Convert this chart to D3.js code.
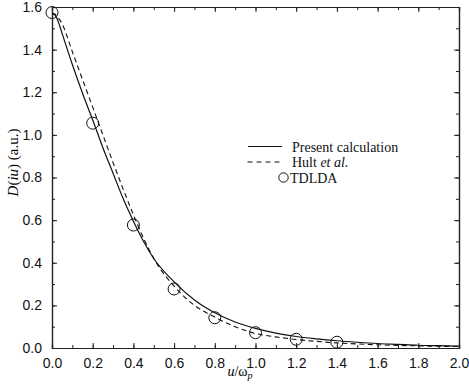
<!DOCTYPE html>
<html>
<head>
<meta charset="utf-8">
<script src="https://cdn.jsdelivr.net/npm/d3@7"></script>
<style>
  body { margin: 0; background: #fff; }
  svg { display: block; }
</style>
</head>
<body>
<div id="chart"></div>
<script>
// values
var presentU = [0, 0.0125, 0.025, 0.0375, 0.05, 0.1, 0.15, 0.2, 0.25, 0.3, 0.35, 0.4, 0.45, 0.5, 0.6, 0.7, 0.8, 0.9, 1.0, 1.1, 1.2, 1.3, 1.4, 1.5, 1.6, 1.7, 1.8, 1.9, 2.0];
var presentD = [1.57, 1.565, 1.545, 1.512, 1.475, 1.33, 1.195, 1.07, 0.94, 0.82, 0.70, 0.595, 0.50, 0.42, 0.31, 0.225, 0.165, 0.122, 0.092, 0.07, 0.054, 0.043, 0.034, 0.027, 0.021, 0.017, 0.013, 0.011, 0.009];

var hultU = [0, 0.0125, 0.025, 0.05, 0.1, 0.15, 0.2, 0.25, 0.3, 0.35, 0.4, 0.45, 0.5, 0.6, 0.7, 0.8, 0.9, 1.0, 1.1, 1.2, 1.3, 1.4, 1.5, 1.6, 1.7, 1.8, 1.9, 2.0];
var hultD = [1.57, 1.567, 1.556, 1.52, 1.39, 1.26, 1.13, 1.0, 0.87, 0.745, 0.625, 0.515, 0.42, 0.29, 0.2, 0.145, 0.1, 0.068, 0.052, 0.04, 0.031, 0.024, 0.019, 0.015, 0.012, 0.01, 0.008, 0.007];

var tdldaU = [0, 0.2, 0.4, 0.6, 0.8, 1.0, 1.2, 1.4];
var tdldaD = [1.574, 1.055, 0.577, 0.277, 0.142, 0.072, 0.041, 0.027];

var xTicks = [0, 0.2, 0.4, 0.6, 0.8, 1.0, 1.2, 1.4, 1.6, 1.8, 2.0];
var yTicks = [0, 0.2, 0.4, 0.6, 0.8, 1.0, 1.2, 1.4, 1.6];

var width = 469, height = 390;
var margin = {left: 52, right: 10, top: 7, bottom: 42};

var svg = d3.select("#chart").append("svg")
    .attr("width", width)
    .attr("height", height);

var x = d3.scaleLinear().domain([0, 2]).range([margin.left, width - margin.right]);
var y = d3.scaleLinear().domain([0, 1.6]).range([height - margin.bottom, margin.top]);

var minorX = d3.range(0, 2.0001, 0.1);
var minorY = d3.range(0, 1.6001, 0.1);

// axes with inward ticks on all four sides
function fmt(d) { return d3.format(".1f")(d); }

svg.append("g")
    .attr("transform", "translate(0," + y(0) + ")")
    .call(d3.axisBottom(x).tickValues(minorX).tickSize(-3).tickFormat(""));
svg.append("g")
    .attr("transform", "translate(0," + y(0) + ")")
    .call(d3.axisBottom(x).tickValues(xTicks).tickSize(-5).tickPadding(10).tickFormat(fmt));
svg.append("g")
    .attr("transform", "translate(0," + y(1.6) + ")")
    .call(d3.axisTop(x).tickValues(minorX).tickSize(-3).tickFormat(""));
svg.append("g")
    .attr("transform", "translate(0," + y(1.6) + ")")
    .call(d3.axisTop(x).tickValues(xTicks).tickSize(-5).tickFormat(""));

svg.append("g")
    .attr("transform", "translate(" + x(0) + ",0)")
    .call(d3.axisLeft(y).tickValues(minorY).tickSize(-3).tickFormat(""));
svg.append("g")
    .attr("transform", "translate(" + x(0) + ",0)")
    .call(d3.axisLeft(y).tickValues(yTicks).tickSize(-5).tickPadding(10).tickFormat(fmt));
svg.append("g")
    .attr("transform", "translate(" + x(2) + ",0)")
    .call(d3.axisRight(y).tickValues(minorY).tickSize(-3).tickFormat(""));
svg.append("g")
    .attr("transform", "translate(" + x(2) + ",0)")
    .call(d3.axisRight(y).tickValues(yTicks).tickSize(-5).tickFormat(""));

svg.selectAll(".domain").attr("stroke", "#222").attr("stroke-width", 1.2);
svg.selectAll(".tick line").attr("stroke", "#222");
svg.selectAll(".tick text")
    .attr("fill", "#111")
    .style("font-family", "'Liberation Sans', Arial, sans-serif")
    .style("font-size", "14px");

// curves
var line = d3.line()
    .x(d => x(d[0]))
    .y(d => y(d[1]))
    .curve(d3.curveMonotoneX);

svg.append("path")
    .datum(d3.zip(hultU, hultD))
    .attr("d", line)
    .attr("fill", "none")
    .attr("stroke", "#111")
    .attr("stroke-width", 1.1)
    .attr("stroke-dasharray", "5,3.5");

svg.append("path")
    .datum(d3.zip(presentU, presentD))
    .attr("d", line)
    .attr("fill", "none")
    .attr("stroke", "#111")
    .attr("stroke-width", 1.2);

svg.append("g").selectAll("circle")
    .data(d3.zip(tdldaU, tdldaD))
    .join("circle")
    .attr("cx", d => x(d[0]))
    .attr("cy", d => y(d[1]))
    .attr("r", 6)
    .attr("fill", "none")
    .attr("stroke", "#111")
    .attr("stroke-width", 1);

// legend
var serif = "'Liberation Serif', 'Times New Roman', serif";
var legend = svg.append("g").style("font-family", serif).style("font-size", "14px").attr("fill", "#111");

legend.append("line")
    .attr("x1", 248).attr("x2", 282).attr("y1", 146.5).attr("y2", 146.5)
    .attr("stroke", "#111").attr("stroke-width", 1.2);
legend.append("text").attr("x", 292).attr("y", 151.5).text("Present calculation");

legend.append("line")
    .attr("x1", 247.5).attr("x2", 282).attr("y1", 162).attr("y2", 162)
    .attr("stroke", "#111").attr("stroke-width", 1.1)
    .attr("stroke-dasharray", "5,4");
var hult = legend.append("text").attr("x", 292).attr("y", 167.2);
hult.append("tspan").text("Hult ");
hult.append("tspan").style("font-style", "italic").text("et al.");

legend.append("circle")
    .attr("cx", 283.5).attr("cy", 177.5).attr("r", 4.7)
    .attr("fill", "none").attr("stroke", "#111");
legend.append("text").attr("x", 290).attr("y", 183).text("TDLDA");

// axis titles
var xt = svg.append("text")
    .attr("x", 240).attr("y", 376)
    .attr("text-anchor", "middle")
    .style("font-family", serif)
    .style("font-size", "14px");
xt.append("tspan").style("font-style", "italic").text("u");
xt.append("tspan").text("/ω");
xt.append("tspan").style("font-style", "italic").attr("dy", 3).style("font-size", "10px").text("p");

var yt = svg.append("text")
    .attr("transform", "translate(18,162.5) rotate(-90)")
    .attr("text-anchor", "middle")
    .style("font-family", serif)
    .style("font-size", "15px");
yt.append("tspan").style("font-style", "italic").text("D");
yt.append("tspan").text("(");
yt.append("tspan").style("font-style", "italic").text("iu");
yt.append("tspan").text(") (a.u.)");
</script>
</body>
</html>
